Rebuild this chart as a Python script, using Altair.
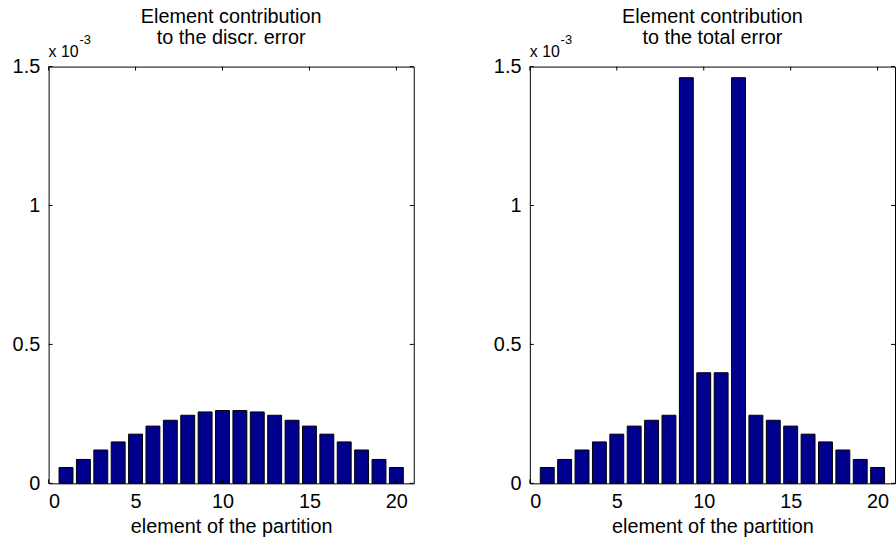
import altair as alt
import pandas as pd

# Element index of the partition
elements = list(range(1, 21))

# Per-element error contributions, in units of 1e-3
discr_error = [0.057, 0.086, 0.120, 0.149, 0.177, 0.206, 0.227, 0.245, 0.257, 0.262,
               0.262, 0.257, 0.245, 0.227, 0.206, 0.177, 0.149, 0.120, 0.086, 0.057]
total_error = [0.057, 0.086, 0.120, 0.149, 0.177, 0.206, 0.227, 0.245, 1.46, 0.398,
               0.398, 1.46, 0.245, 0.227, 0.206, 0.177, 0.149, 0.120, 0.086, 0.057]

x_ticks = [0, 5, 10, 15, 20]
y_ticks = [0, 0.5, 1, 1.5]

titles_left = ["Element contribution", "to the discr. error"]
titles_right = ["Element contribution", "to the total error"]
x_label = "element of the partition"

W, H = 368, 420
FONT = "Liberation Sans"
NAVY = "#00008F"
TICK = 4

x_scale = alt.Scale(domain=[0, 21], nice=False, zero=False)
y_scale = alt.Scale(domain=[0, 1.5], nice=False, zero=False)

x_axis = alt.Axis(values=x_ticks, format="~g", title=x_label,
                  labelBaseline="alphabetic", labelPadding=24,
                  titleBaseline="alphabetic", titleY=50)
y_axis = alt.Axis(values=y_ticks, format="~g", title=None, labelPadding=9)


def panel(values, title_lines):
    df = pd.DataFrame({"element": elements, "err": values})

    bars = (
        alt.Chart(df)
        .transform_calculate(lo="datum.element - 0.4", hi="datum.element + 0.4")
        .mark_rect(color=NAVY, stroke="black", strokeWidth=1)
        .encode(
            x=alt.X("lo:Q", scale=x_scale, axis=x_axis),
            x2="hi:Q",
            y=alt.Y("err:Q", scale=y_scale, axis=y_axis),
            y2=alt.datum(0),
        )
    )

    xt = pd.DataFrame({"t": x_ticks})
    yt = pd.DataFrame({"t": y_ticks})

    # inward tick marks on all four sides of the box
    x_bottom = alt.Chart(xt).mark_rule(color="black").encode(
        x=alt.X("t:Q", scale=x_scale, axis=x_axis),
        y=alt.value(H), y2=alt.value(H - TICK))
    x_top = alt.Chart(xt).mark_rule(color="black").encode(
        x=alt.X("t:Q", scale=x_scale, axis=x_axis),
        y=alt.value(0), y2=alt.value(TICK))
    y_left = alt.Chart(yt).mark_rule(color="black").encode(
        y=alt.Y("t:Q", scale=y_scale, axis=y_axis),
        x=alt.value(0), x2=alt.value(TICK))
    y_right = alt.Chart(yt).mark_rule(color="black").encode(
        y=alt.Y("t:Q", scale=y_scale, axis=y_axis),
        x=alt.value(W), x2=alt.value(W - TICK))

    # axis exponent "x 10^-3"
    exp_base = alt.Chart(pd.DataFrame({"s": ["x 10"]})).mark_text(
        align="left", baseline="alphabetic", font=FONT, fontSize=16, color="black"
    ).encode(x=alt.value(0), y=alt.value(-10), text="s:N")
    exp_pow = alt.Chart(pd.DataFrame({"s": ["-3"]})).mark_text(
        align="left", baseline="alphabetic", font=FONT, fontSize=13, color="black"
    ).encode(x=alt.value(31), y=alt.value(-23), text="s:N")

    return alt.layer(bars, x_bottom, x_top, y_left, y_right, exp_base, exp_pow).properties(
        width=W,
        height=H,
        title=alt.TitleParams(text=title_lines, font=FONT, fontSize=20,
                              fontWeight="normal", lineHeight=21, anchor="middle",
                              offset=-14, color="black"),
    )


chart = (
    alt.hconcat(panel(discr_error, titles_left), panel(total_error, titles_right),
                spacing=117, bounds="flush")
    .properties(padding={"left": 11, "top": 4, "right": 0, "bottom": 0},
                background="white")
    .configure_view(stroke="black", strokeWidth=1)
    .configure_axis(domain=False, ticks=False, grid=False, labelFont=FONT,
                    labelFontSize=20, labelColor="black", titleFont=FONT,
                    titleFontSize=20, titleFontWeight="normal", titleColor="black")
)

chart.save("out.html", embed_options={"renderer": "svg", "actions": False})
